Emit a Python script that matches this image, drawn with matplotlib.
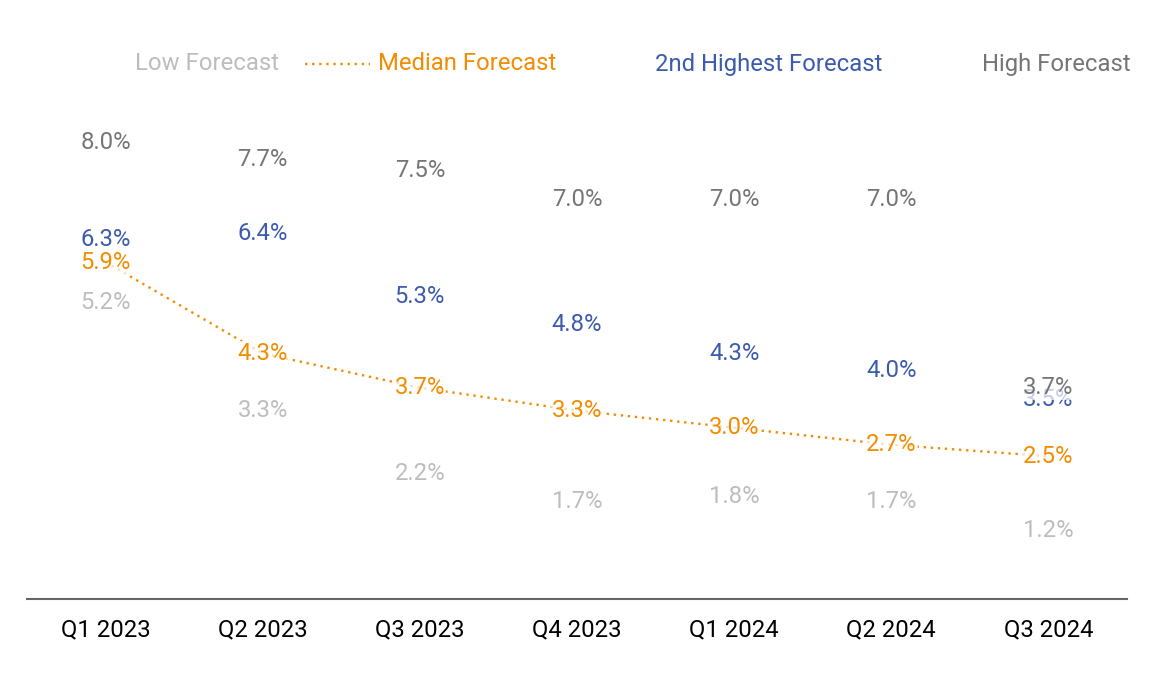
import matplotlib.pyplot as plt
import numpy as np

quarters = ['Q1 2023', 'Q2 2023', 'Q3 2023', 'Q4 2023', 'Q1 2024', 'Q2 2024', 'Q3 2024']
low = [5.2, 3.3, 2.2, 1.7, 1.8, 1.7, 1.2]
median = [5.9, 4.3, 3.7, 3.3, 3.0, 2.7, 2.5]
second_high = [6.3, 6.4, 5.3, 4.8, 4.3, 4.0, 3.5]
high = [8.0, 7.7, 7.5, 7.0, 7.0, 7.0, 3.7]

c_low = '#bdbdbd'
c_med = '#f28c00'
c_2nd = '#3b5bad'
c_high = '#757575'

plt.rcParams['font.family'] = ['Roboto', 'DejaVu Sans']
fs = 17.2

fig = plt.figure(figsize=(11.49, 6.75), dpi=100)
ax = fig.add_axes([27 / 1149, 1 - 599 / 675, 1100 / 1149, (599 - 85) / 675])
x = np.arange(len(quarters))


def labels(vals, color, z):
    for xi, v in zip(x, vals):
        ax.text(xi, v, f'{v:.1f}%', color=color, fontsize=fs, ha='center', va='center', zorder=z,
                bbox=dict(boxstyle='square,pad=0.05', fc='white', ec='none', alpha=0.7))


labels(low, c_low, 3)
ax.plot(x, median, color=c_med, linestyle=(0, (1, 2)), linewidth=1.7, zorder=2)
labels(median, c_med, 4)
labels(second_high, c_2nd, 5)
labels(high, c_high, 6)

ax.set_xlim(-0.5, 6.5)
ax.set_ylim(0, 9)
for s in ['top', 'right', 'left']:
    ax.spines[s].set_visible(False)
ax.spines['bottom'].set_color('#666666')
ax.spines['bottom'].set_linewidth(1.5)
ax.set_yticks([])
ax.set_xticks(x)
ax.set_xticklabels(quarters, fontsize=fs, color='black')
ax.tick_params(axis='x', length=0, pad=14)

# legend row
ty = 1 - 64 / 675
fig.text(135 / 1149, ty, 'Low Forecast', color=c_low, fontsize=fs, va='center')
fig.add_artist(plt.Line2D([305 / 1149, 370 / 1149], [ty, ty], color=c_med, linestyle=(0, (1, 2)), linewidth=1.7))
fig.text(378 / 1149, ty, 'Median Forecast', color=c_med, fontsize=fs, va='center')
fig.text(655 / 1149, ty, '2nd Highest Forecast', color=c_2nd, fontsize=fs, va='center')
fig.text(982 / 1149, ty, 'High Forecast', color=c_high, fontsize=fs, va='center')

fig.savefig('out.png', dpi=100)
